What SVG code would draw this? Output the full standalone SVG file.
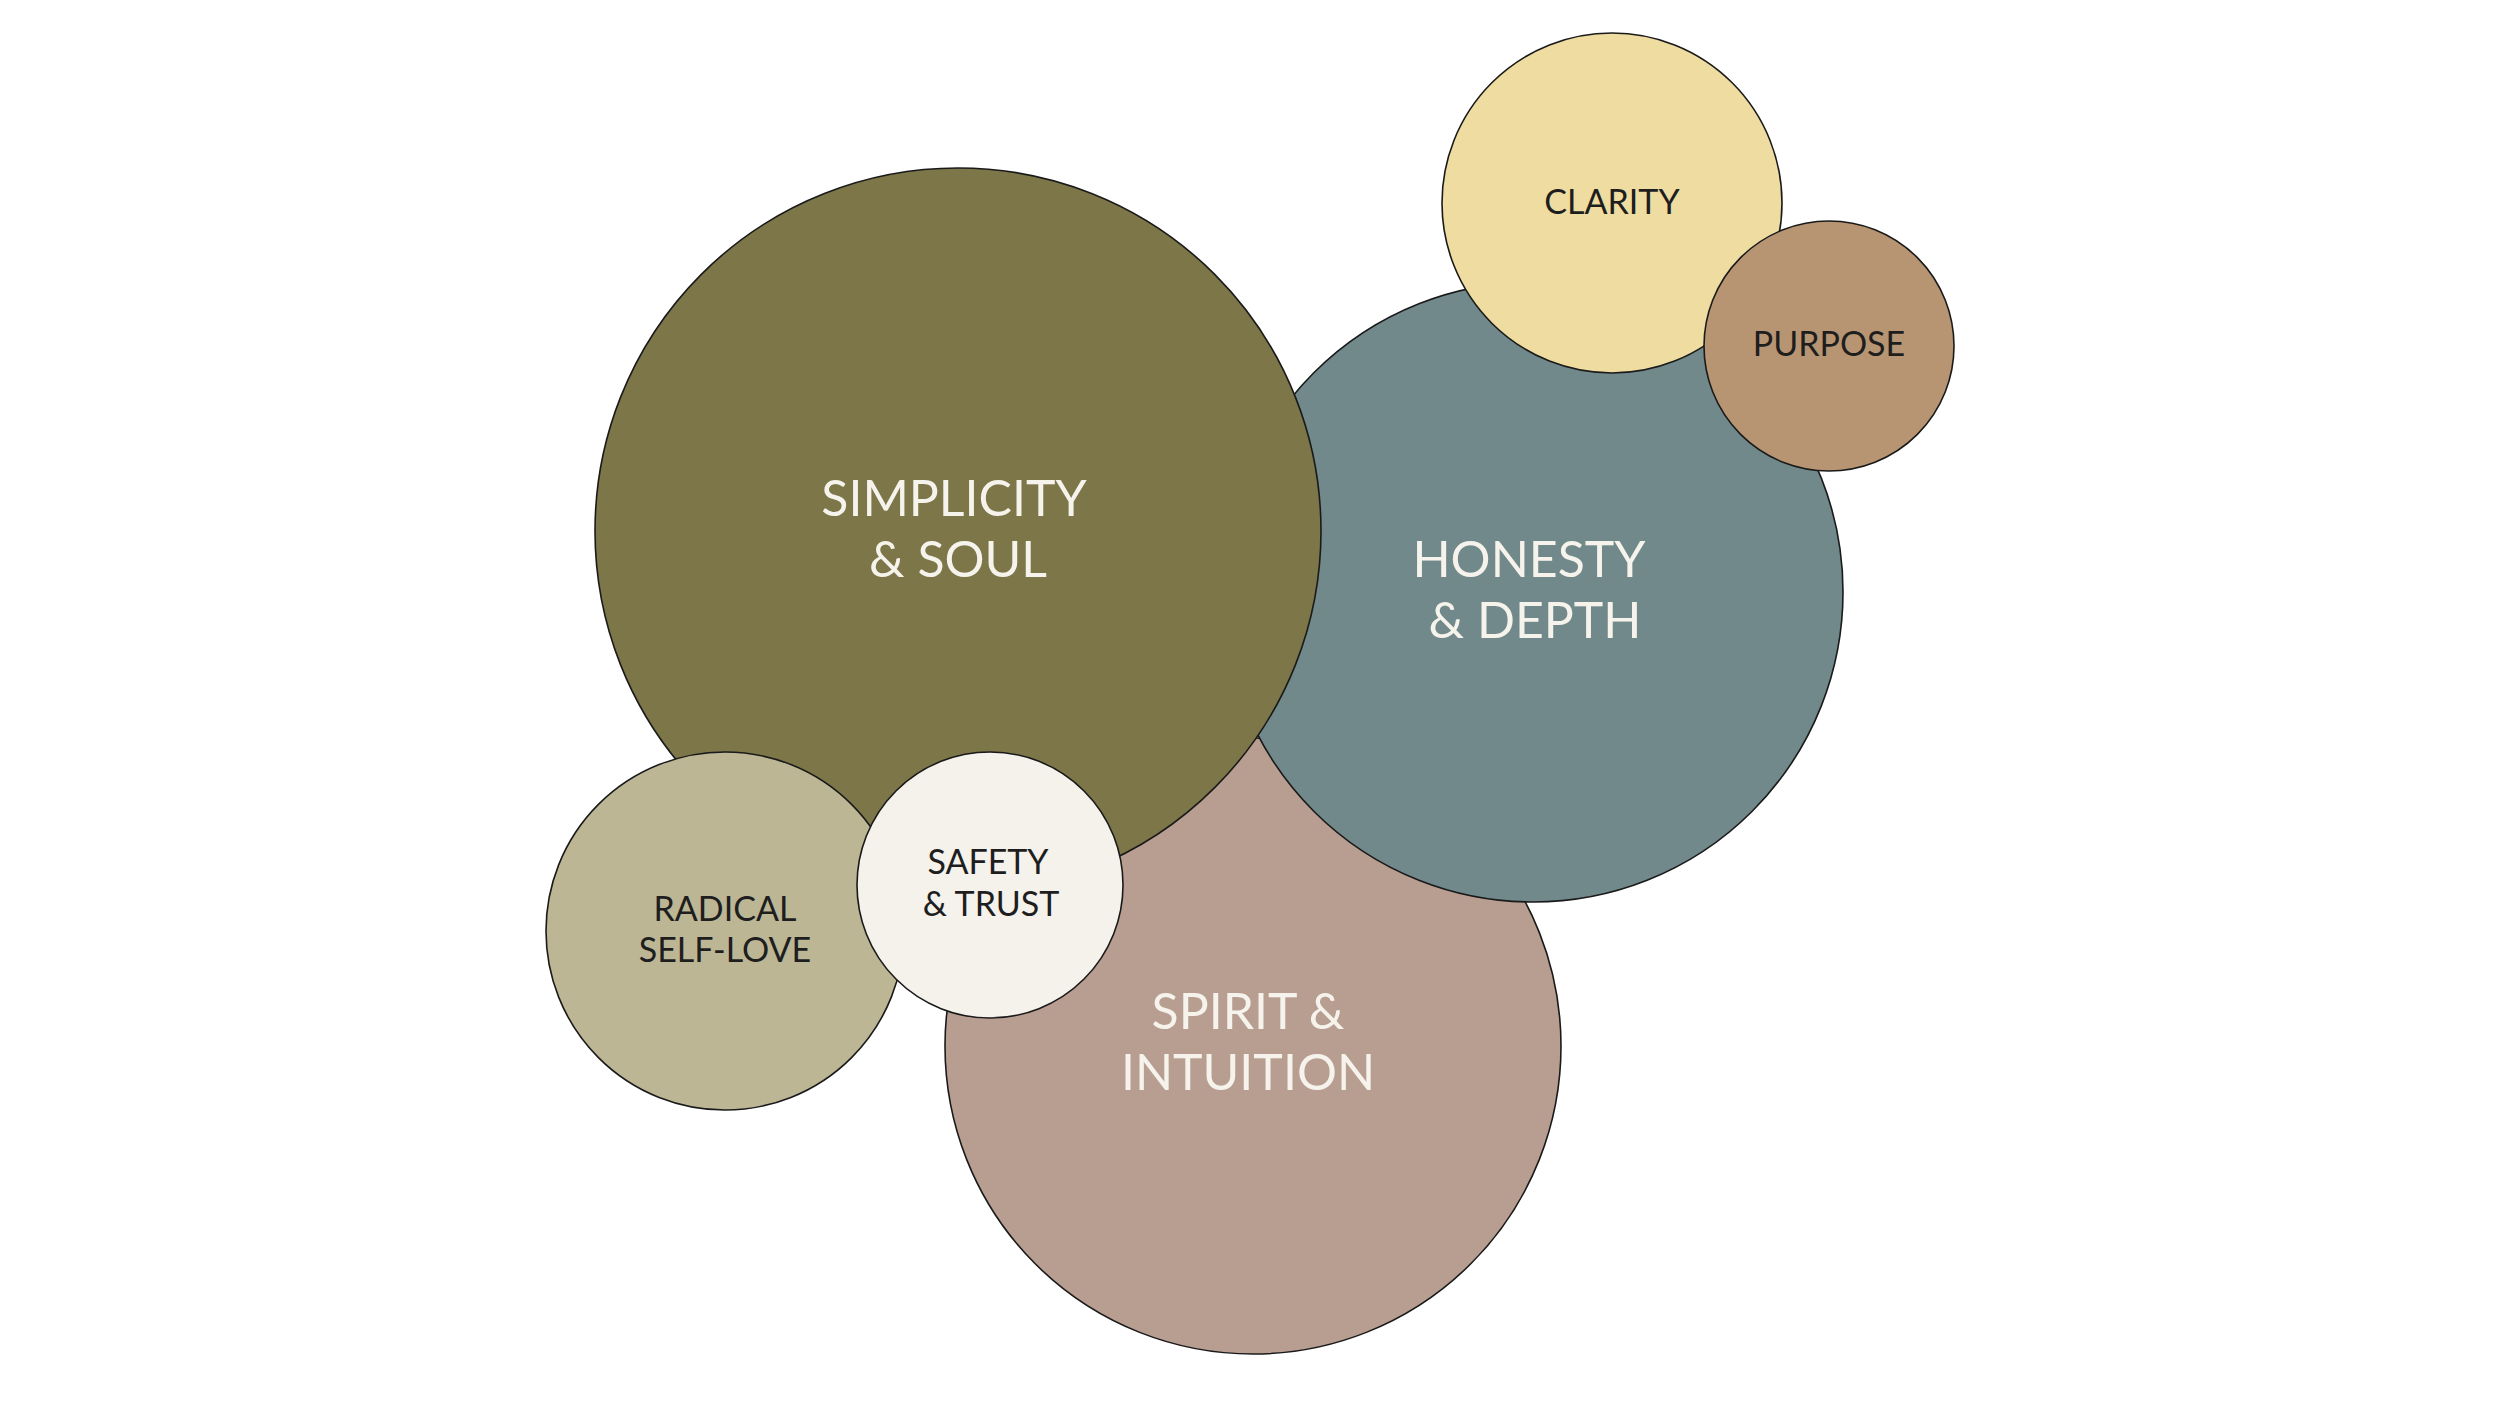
<svg xmlns="http://www.w3.org/2000/svg" width="2500" height="1406" viewBox="0 0 2500 1406">
<style>
.c{stroke:#1a1a1a;stroke-width:1.6}
.t{font-family:Lato,"Liberation Sans",sans-serif;text-anchor:middle}
.big{font-size:50px;fill:#f6f3ec}
.sm{font-size:34px;fill:#1e1e1e}
</style>
<rect width="2500" height="1406" fill="#ffffff"/>
<g id="spirit">
<circle class="c" cx="1253" cy="1046" r="308" fill="#b89e91"/>
<text class="t big" x="1248" y="1029">SPIRIT &amp;</text>
<text class="t big" x="1248" y="1090">INTUITION</text>
</g>
<g id="honesty">
<circle class="c" cx="1533" cy="592" r="310" fill="#71898a"/>
<text class="t big" x="1529" y="577">HONESTY</text>
<text class="t big" x="1535" y="638">&amp; DEPTH</text>
</g>
<g id="simplicity">
<circle class="c" cx="958" cy="531" r="363" fill="#7c7648"/>
<text class="t big" x="954" y="516">SIMPLICITY</text>
<text class="t big" x="958" y="577">&amp; SOUL</text>
</g>
<g id="clarity">
<circle class="c" cx="1612" cy="203" r="170" fill="#efdca0"/>
<text class="t sm" x="1612" y="214">CLARITY</text>
</g>
<g id="purpose">
<circle class="c" cx="1829" cy="346" r="125" fill="#b89572"/>
<text class="t sm" x="1829" y="356">PURPOSE</text>
</g>
<g id="radical">
<circle class="c" cx="725" cy="931" r="179" fill="#bcb695"/>
<text class="t sm" x="725" y="921">RADICAL</text>
<text class="t sm" x="725" y="962">SELF-LOVE</text>
</g>
<g id="safety">
<circle class="c" cx="990" cy="885" r="133" fill="#f5f2ec"/>
<text class="t sm" x="988" y="874">SAFETY</text>
<text class="t sm" x="991" y="916">&amp; TRUST</text>
</g>
<g id="connectors"/>
</svg>
